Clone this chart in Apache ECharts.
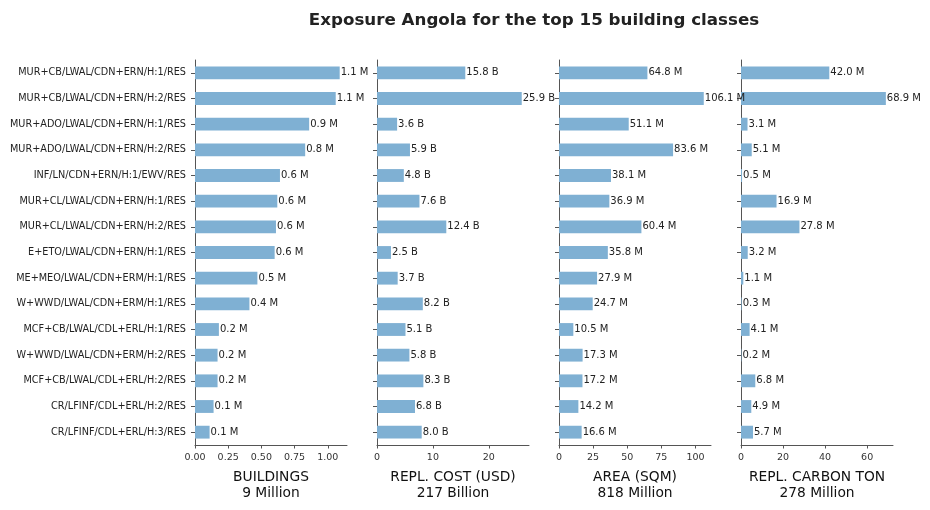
<!DOCTYPE html>
<html>
<head>
<meta charset="utf-8">
<script src="https://cdn.jsdelivr.net/npm/echarts@6/dist/echarts.min.js"></script>
<style>
  html, body { margin: 0; padding: 0; background: #fff; }
  #chart { width: 930px; height: 510px; }
</style>
</head>
<body>
<div id="chart"></div>
<script>
// building classes, top to bottom
var classes = [
    'MUR+CB/LWAL/CDN+ERN/H:1/RES',
    'MUR+CB/LWAL/CDN+ERN/H:2/RES',
    'MUR+ADO/LWAL/CDN+ERN/H:1/RES',
    'MUR+ADO/LWAL/CDN+ERN/H:2/RES',
    'INF/LN/CDN+ERN/H:1/EWV/RES',
    'MUR+CL/LWAL/CDN+ERN/H:1/RES',
    'MUR+CL/LWAL/CDN+ERN/H:2/RES',
    'E+ETO/LWAL/CDN+ERN/H:1/RES',
    'ME+MEO/LWAL/CDN+ERM/H:1/RES',
    'W+WWD/LWAL/CDN+ERM/H:1/RES',
    'MCF+CB/LWAL/CDL+ERL/H:1/RES',
    'W+WWD/LWAL/CDN+ERM/H:2/RES',
    'MCF+CB/LWAL/CDL+ERL/H:2/RES',
    'CR/LFINF/CDL+ERL/H:2/RES',
    'CR/LFINF/CDL+ERL/H:3/RES'
];
// millions of buildings
var buildings = [1.09, 1.06, 0.86, 0.83, 0.64, 0.62, 0.61, 0.60, 0.47, 0.41, 0.18, 0.17, 0.17, 0.14, 0.11];
// billions USD
var replCost = [15.8, 25.9, 3.6, 5.9, 4.8, 7.6, 12.4, 2.5, 3.7, 8.2, 5.1, 5.8, 8.3, 6.8, 8.0];
// millions sqm
var area = [64.8, 106.1, 51.1, 83.6, 38.1, 36.9, 60.4, 35.8, 27.9, 24.7, 10.5, 17.3, 17.2, 14.2, 16.6];
// millions ton
var carbon = [42.0, 68.9, 3.1, 5.1, 0.5, 16.9, 27.8, 3.2, 1.1, 0.3, 4.1, 0.2, 6.8, 4.9, 5.7];

var panels = [
    { name: 'BUILDINGS\n9 Million', data: buildings, unit: ' M', max: 1.145, interval: 0.25, dec: 2 },
    { name: 'REPL. COST (USD)\n217 Billion', data: replCost, unit: ' B', max: 27.2, interval: 10, dec: 0 },
    { name: 'AREA (SQM)\n818 Million', data: area, unit: ' M', max: 111.4, interval: 25, dec: 0 },
    { name: 'REPL. CARBON TON\n278 Million', data: carbon, unit: ' M', max: 72.3, interval: 20, dec: 0 }
];

var barColor = '#7fb0d3';
var axisColor = '#555';
var font = 'DejaVu Sans';

var grids = [], xAxes = [], yAxes = [], series = [];
panels.forEach(function(p, i) {
    grids.push({ left: 195 + i * 182, width: 152, top: 60, height: 385 });
    xAxes.push({
        type: 'value', gridIndex: i, min: 0, max: p.max, interval: p.interval,
        name: p.name, nameLocation: 'middle', nameGap: 24,
        nameTextStyle: { fontFamily: font, fontSize: 13.8, color: '#111', lineHeight: 16, verticalAlign: 'top' },
        axisLine: { show: true, lineStyle: { color: axisColor } },
        axisTick: { show: true, length: 3.5, lineStyle: { color: axisColor } },
        axisLabel: {
            fontFamily: font, fontSize: 9.5, color: '#333', margin: 8, showMaxLabel: false,
            formatter: function(v) { return v.toFixed(p.dec); }
        },
        splitLine: { show: false }
    });
    yAxes.push({
        type: 'category', gridIndex: i, data: classes, inverse: true,
        axisLine: { show: true, lineStyle: { color: axisColor } },
        axisTick: { show: true, alignWithLabel: true, length: 4, lineStyle: { color: axisColor } },
        axisLabel: { show: i === 0, fontFamily: font, fontSize: 9.7, color: '#222', margin: 9 }
    });
    series.push({
        type: 'bar', xAxisIndex: i, yAxisIndex: i, data: p.data,
        barWidth: '50%', itemStyle: { color: barColor },
        label: {
            show: true, position: 'right', distance: 1,
            fontFamily: font, fontSize: 10, color: '#222',
            formatter: function(d) { return d.value.toFixed(1) + p.unit; }
        },
        animation: false
    });
});

var chart = echarts.init(document.getElementById('chart'));
chart.setOption({
    animation: false,
    title: {
        text: 'Exposure Angola for the top 15 building classes',
        left: 529, top: 7, textAlign: 'center',
        textStyle: { fontFamily: font, fontSize: 16.7, fontWeight: 'bold', color: '#222' }
    },
    grid: grids,
    xAxis: xAxes,
    yAxis: yAxes,
    series: series
});
</script>
</body>
</html>
